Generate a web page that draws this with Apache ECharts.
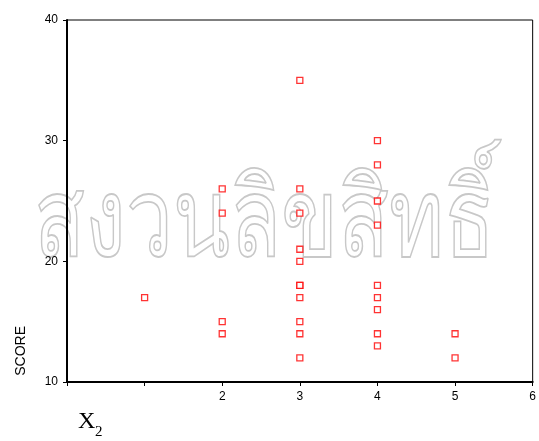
<!DOCTYPE html>
<html><head><meta charset="utf-8">
<script src="https://cdn.jsdelivr.net/npm/echarts@6/dist/echarts.min.js"></script>
<style>html,body{margin:0;padding:0;background:#fff}#c{width:539px;height:441px}</style>
</head><body><div id="c"></div>
<script>
const xValues = [1, 2,2,2,2, 3,3,3,3,3,3,3,3,3,3,3, 4,4,4,4,4,4,4,4,4, 5,5];
const scoreValues = [17, 26,24,15,14, 35,26,24,21,20,18,18,17,15,14,12, 30,28,25,23,18,17,16,14,13, 14,12];
const xTickLabels = ['', '', '2', '3', '4', '5', '6'];
const yTicks = [10, 20, 30, 40];
const xTitle = 'X';
const xTitleSub = '2';
const yTitle = 'SCORE';
const watermark = 'สงวนลิขสิทธิ์';

const points = xValues.map((x, i) => [x, scoreValues[i]]);
const chart = echarts.init(document.getElementById('c'));
chart.setOption({
  animation: false,
  backgroundColor: '#fff',
  grid: {left: 67, top: 20, right: 2, bottom: 59, show: true, borderColor: '#000', borderWidth: 1, backgroundColor: 'transparent'},
  xAxis: {
    type: 'value', min: 0, max: 6, interval: 1,
    axisLine: {show: true, lineStyle: {color: '#000', width: 2}},
    axisTick: {show: true, length: 4, lineStyle: {color: '#000'}},
    axisLabel: {formatter: v => xTickLabels[v] || '', color: '#000', fontFamily: 'Liberation Sans', fontSize: 12, margin: 9},
    splitLine: {show: false}
  },
  yAxis: {
    type: 'value', min: yTicks[0], max: yTicks[yTicks.length - 1], interval: 10,
    axisLine: {show: true, lineStyle: {color: '#000', width: 2}},
    axisTick: {show: true, length: 4, lineStyle: {color: '#000'}},
    axisLabel: {color: '#000', fontFamily: 'Liberation Sans', fontSize: 12, margin: 9},
    splitLine: {show: false}
  },
  graphic: [
    {type: 'text', left: 14, top: 326, rotation: Math.PI / 2, style: {text: yTitle, fill: '#000', font: '14px "Liberation Sans"'}, originX: 0, originY: 0},
    {type: 'text', left: 78, top: 410, style: {text: xTitle, fill: '#000', font: '24px "Liberation Serif"'}},
    {type: 'text', left: 95, top: 425, style: {text: xTitleSub, fill: '#000', font: '15px "Liberation Serif"'}},
    {type: 'text', x: 34, y: 170, scaleX: 0.76, z: -1, style: {text: watermark, fill: 'rgba(255,255,255,0)', stroke: '#c8c8c8', lineWidth: 1.8, font: '110px "Noto Sans", "DejaVu Sans"'}}
  ],
  series: [{
    type: 'scatter', data: points, symbol: 'rect', symbolSize: 6,
    itemStyle: {color: '#fff', borderColor: '#ff0000', borderWidth: 1.3}
  }]
});
</script></body></html>
